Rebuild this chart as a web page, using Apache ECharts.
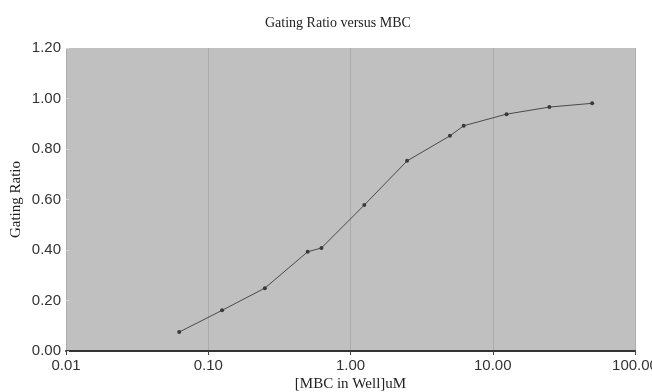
<!DOCTYPE html>
<html>
<head>
<meta charset="utf-8">
<script src="https://cdn.jsdelivr.net/npm/echarts@6/dist/echarts.min.js"></script>
<style>
  html, body { margin: 0; padding: 0; background: #fff; }
  #chart { width: 652px; height: 392px; }
</style>
</head>
<body>
<div id="chart"></div>
<script>
// MBC concentration in well (uM)
const mbcConc = [0.0625, 0.125, 0.25, 0.5, 0.625, 1.25, 2.5, 5, 6.25, 12.5, 25, 50];
// gating ratio
const gatingRatio = [0.075, 0.161, 0.249, 0.393, 0.408, 0.578, 0.753, 0.852, 0.892, 0.938, 0.966, 0.981];
const yTicks = [0, 0.2, 0.4, 0.6, 0.8, 1.0, 1.2];

const serif = "'Liberation Serif', 'DejaVu Serif', serif";
const sans = "'Liberation Sans', Arial, sans-serif";

const chart = echarts.init(document.getElementById("chart"));

let points = [];
for (let i = 0; i < mbcConc.length; i++) {
  points.push([mbcConc[i], gatingRatio[i]]);
}

const option = {
  animation: false,
  title: {
    text: "Gating Ratio versus MBC",
    left: 260,
    top: 11,
    textStyle: { fontFamily: serif, fontSize: 14, fontWeight: "normal", color: "#222" },
  },
  grid: {
    left: 66,
    right: 17,
    top: 48,
    bottom: 41,
    outerBoundsMode: "none",
    containLabel: false,
    show: true,
    backgroundColor: "#c0c0c0",
    borderWidth: 0,
  },
  xAxis: {
    type: "log",
    logBase: 10,
    min: 0.01,
    max: 100,
    name: "[MBC in Well]uM",
    nameLocation: "middle",
    nameGap: 26,
    nameMoveOverlap: false,
    nameTextStyle: { fontFamily: serif, fontSize: 15, color: "#222" },
    axisLine: { show: true, lineStyle: { color: "#333", width: 2 } },
    axisTick: { show: true, length: 4, lineStyle: { color: "#444" } },
    axisLabel: {
      fontFamily: sans,
      fontSize: 15,
      color: "#333",
      margin: 7,
      formatter: (v) => Number(v).toFixed(2),
    },
    splitLine: { show: true, lineStyle: { color: "#acacac", width: 1 } },
    minorTick: { show: false },
  },
  yAxis: {
    type: "value",
    min: yTicks[0],
    max: yTicks[yTicks.length - 1],
    interval: 0.2,
    name: "Gating Ratio",
    nameLocation: "middle",
    nameGap: 42,
    nameMoveOverlap: false,
    nameTextStyle: { fontFamily: serif, fontSize: 15, color: "#222" },
    axisLine: { show: false },
    axisTick: { show: true, inside: true, length: 3, lineStyle: { color: "#d8d8d8" } },
    axisLabel: {
      fontFamily: sans,
      fontSize: 15,
      color: "#333",
      margin: 5,
      formatter: (v) => v.toFixed(2),
    },
    splitLine: { show: false },
  },
  series: [
    {
      type: "line",
      data: points,
      symbol: "circle",
      symbolSize: 4,
      itemStyle: { color: "#3a3a3a" },
      lineStyle: { color: "#4a4a4a", width: 1 },
    },
  ],
};

chart.setOption(option);
</script>
</body>
</html>
